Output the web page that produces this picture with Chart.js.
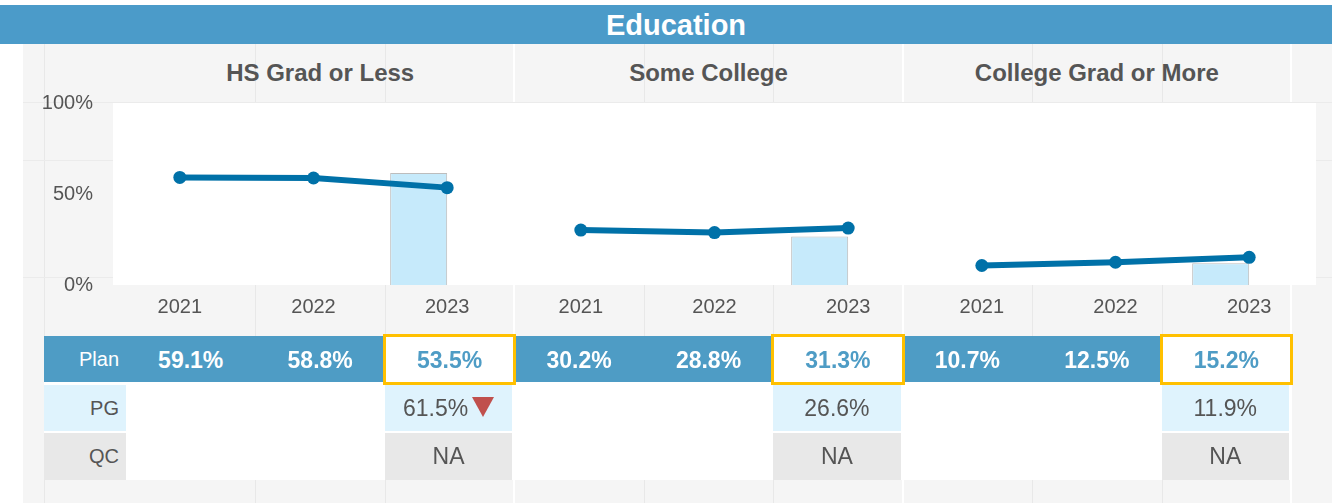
<!DOCTYPE html>
<html lang="en">
<head>
  <meta charset="UTF-8" />
  <title>Education</title>
  <script src="https://cdn.jsdelivr.net/npm/chart.js@4"></script>
  <style>
    body { margin: 0; width: 1332px; height: 503px; position: relative; overflow: hidden; background: #fff;
           font-family: Arial, "Liberation Sans", sans-serif; color: #555; }
    .bg { position: absolute; left: 23px; top: 44px; width: 1309px; height: 459px; background: #f5f5f5; }
    .title { position: absolute; left: 0; top: 5px; width: 1332px; height: 39px; background: #4b9bc9; color: #fff;
             font-weight: bold; font-size: 29px; line-height: 40px; text-align: center; box-sizing: border-box; padding-left: 20px; }
    .head { position: absolute; top: 44px; height: 58px; line-height: 58px; font-weight: bold; font-size: 24px; text-align: center; }
    .vline { position: absolute; width: 1px; background: #e8e8e8; }
    .hline { position: absolute; height: 1px; background: #ebebeb; }
    .sep { position: absolute; width: 2px; background: #fff; }
    .cell { position: absolute; box-sizing: border-box; text-align: center; white-space: nowrap; }
    .lbl { text-align: right; padding-right: 7px; font-size: 20px; }
    .down { display: inline-block; width: 0; height: 0; border-left: 11px solid transparent; border-right: 11px solid transparent;
            border-top: 20px solid #c0504d; margin-left: 4px; vertical-align: -1px; }
    #wrap { position: absolute; left: 0; top: 85px; width: 1332px; height: 250px; }
  </style>
</head>
<body>
  <div class="bg"></div>
  <div id="grid"></div>
  <div class="title">Education</div>
  <div id="heads"></div>
  <div id="wrap"><canvas id="eduChart"></canvas></div>
  <div id="table"></div>

  <script>
    // values per education group, by year
    const years = ['2021', '2022', '2023'];
    const groups = ['HS Grad or Less', 'Some College', 'College Grad or More'];
    const planHS = [59.1, 58.8, 53.5];
    const planSomeCollege = [30.2, 28.8, 31.3];
    const planCollegeGrad = [10.7, 12.5, 15.2];
    const pgValues = [61.5, 26.6, 11.9];
    const qcValues = ['NA', 'NA', 'NA'];
    const pgDown = [true, false, false];
    const yTicks = [0, 50, 100];

    const planRows = [planHS, planSomeCollege, planCollegeGrad];

    // table column layout (label column + 9 year columns)
    const labelLeft = 44, colLeft = 126, colW = (1291 - 126) / 9;
    const colX = i => colLeft + i * colW;

    function el(parent, cls, css, html) {
      const d = document.createElement('div');
      d.className = cls;
      Object.assign(d.style, css);
      if (html !== undefined) d.innerHTML = html;
      parent.appendChild(d);
      return d;
    }

    // faint background grid
    const grid = document.getElementById('grid');
    el(grid, 'vline', { left: labelLeft + 'px', top: '44px', height: '459px' });
    for (let i = 1; i <= 9; i++) {
      if (i % 3 === 0) el(grid, 'sep', { left: Math.round(colX(i)) - 1 + 'px', top: '44px', height: '459px' });
      else el(grid, 'vline', { left: Math.round(colX(i)) + 'px', top: '44px', height: '459px' });
    }
    [102, 160, 277].forEach(y => {
      el(grid, 'hline', { left: '23px', top: y + 'px', width: '1309px' });
    });

    // group headers
    const heads = document.getElementById('heads');
    groups.forEach((g, gi) => {
      el(heads, 'head', { left: colX(gi * 3) + 'px', width: colW * 3 + 'px' }, g);
    });

    // Plan / PG / QC rows
    const table = document.getElementById('table');
    const fmt = v => v.toFixed(1) + '%';

    el(table, 'cell', { left: labelLeft + 'px', top: '382px', width: (1291 - labelLeft) + 'px', height: '98px', background: '#fff' });
    el(table, 'cell', { left: labelLeft + 'px', top: '336px', width: (1291 - labelLeft) + 'px', height: '46px', background: '#4e9cc5' });
    el(table, 'cell lbl', { left: labelLeft + 'px', top: '336px', width: (colLeft - labelLeft) + 'px', height: '46px',
                            lineHeight: '46px', color: '#fff' }, 'Plan');
    el(table, 'cell lbl', { left: labelLeft + 'px', top: '385px', width: (colLeft - labelLeft) + 'px', height: '46px',
                            lineHeight: '46px', background: '#dff3fd' }, 'PG');
    el(table, 'cell lbl', { left: labelLeft + 'px', top: '433px', width: (colLeft - labelLeft) + 'px', height: '47px',
                            lineHeight: '47px', background: '#e8e8e8' }, 'QC');

    planRows.forEach((vals, gi) => {
      vals.forEach((v, yi) => {
        const i = gi * 3 + yi;
        const last = yi === years.length - 1;
        if (last) {
          el(table, 'cell', { left: colX(i) - 2 + 'px', top: '334px', width: colW + 4 + 'px', height: '51px',
                              lineHeight: '46px', background: '#fff', border: '3px solid #ffc000', color: '#4e9cc5',
                              fontWeight: 'bold', fontSize: '23px' }, fmt(v));
        } else {
          el(table, 'cell', { left: colX(i) + 'px', top: '336px', width: colW + 'px', height: '46px',
                              lineHeight: '48px', color: '#fff', fontWeight: 'bold', fontSize: '23px' }, fmt(v));
        }
      });
      const i = gi * 3 + 2;
      el(table, 'cell', { left: colX(i) + 'px', top: '385px', width: colW - 2 + 'px', height: '46px', lineHeight: '46px',
                          background: '#dff3fd', fontSize: '23px' },
         fmt(pgValues[gi]) + (pgDown[gi] ? '<span class="down"></span>' : ''));
      el(table, 'cell', { left: colX(i) + 'px', top: '433px', width: colW - 2 + 'px', height: '47px', lineHeight: '47px',
                          background: '#e8e8e8', fontSize: '23px' }, qcValues[gi]);
    });

    // chart: 9 categories, one line per group, PG bar on each 2023
    const labels = groups.flatMap(() => years);
    const lineSets = planRows.map((vals, gi) => {
      const data = labels.map(() => null);
      vals.forEach((v, yi) => { data[gi * 3 + yi] = v; });
      return {
        type: 'line', data, order: 0,
        borderColor: '#0071a8', backgroundColor: '#0071a8', borderWidth: 6,
        pointRadius: 6.5, pointBorderWidth: 0, pointBackgroundColor: '#0071a8'
      };
    });
    const pgData = labels.map(() => null);
    pgValues.forEach((v, gi) => { pgData[gi * 3 + 2] = v; });

    const plotBg = {
      id: 'plotBg',
      beforeDraw(chart) {
        const { ctx, chartArea: a } = chart;
        ctx.save();
        ctx.fillStyle = '#fff';
        ctx.fillRect(a.left, a.top, a.right - a.left, a.bottom - a.top);
        ctx.restore();
      }
    };

    new Chart(document.getElementById('eduChart'), {
      type: 'bar',
      data: {
        labels,
        datasets: [
          ...lineSets,
          { type: 'bar', data: pgData, order: 1, backgroundColor: '#c6eafb', borderColor: '#bdbdbd', borderWidth: 1 },
          // empty partner so the PG bar sits left of the category centre
          { type: 'bar', data: labels.map(() => null), order: 2 }
        ]
      },
      options: {
        responsive: true,
        maintainAspectRatio: false,
        animation: false,
        layout: { padding: { top: 18, right: 16, bottom: 0, left: 0 } },
        plugins: { legend: { display: false }, tooltip: { enabled: false } },
        datasets: { bar: { categoryPercentage: 0.853, barPercentage: 1 } },
        scales: {
          x: {
            grid: { display: false, drawTicks: false },
            border: { display: false },
            ticks: { color: '#555', font: { size: 20 }, padding: 10, maxRotation: 0, autoSkip: false },
            afterFit(s) { s.height = 50; s.paddingLeft = 0; s.paddingRight = 0; }
          },
          y: {
            min: 0, max: 100,
            grid: { display: false, drawTicks: false },
            border: { display: false },
            ticks: { color: '#555', font: { size: 20 }, padding: 20, callback: v => v + '%' },
            afterBuildTicks(s) { s.ticks = yTicks.map(v => ({ value: v })); },
            afterFit(s) { s.width = 113; s.paddingTop = 0; s.paddingBottom = 0; }
          }
        }
      },
      plugins: [plotBg]
    });
  </script>
</body>
</html>
